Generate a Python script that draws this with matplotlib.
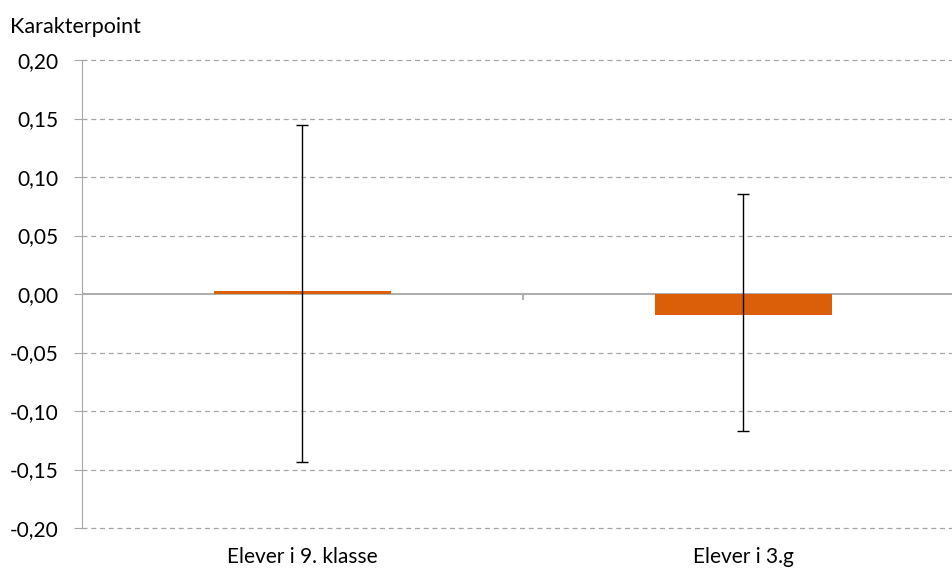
import matplotlib.pyplot as plt
from matplotlib.ticker import FuncFormatter

categories = ['Elever i 9. klasse', 'Elever i 3.g']
values = [0.0028, -0.018]
err_low = [-0.1436, -0.117]
err_high = [0.1444, 0.0855]

plt.rcParams['font.family'] = ['Lato', 'DejaVu Sans']

fig = plt.figure(figsize=(9.53, 5.70), dpi=100)
ax = fig.add_axes([82 / 953, 42 / 570, 882 / 953, 468 / 570])

x = list(range(len(categories)))
ax.bar(x, values, width=0.4, color='#DB5F08', zorder=2)
yerr = [[v - lo for v, lo in zip(values, err_low)], [hi - v for v, hi in zip(values, err_high)]]
ax.errorbar(x, values, yerr=yerr, fmt='none', ecolor='black', elinewidth=1, capsize=4, capthick=1, zorder=3)

ax.set_xlim(-0.5, 1.5)
ax.set_ylim(-0.2, 0.2)
ticks = [-0.2, -0.15, -0.1, -0.05, 0, 0.05, 0.1, 0.15, 0.2]
ax.set_yticks(ticks)
ax.yaxis.set_major_formatter(FuncFormatter(lambda v, p: f'{v:.2f}'.replace('.', ',').replace('-0,00', '0,00')))
for t in ticks:
    if t != 0:
        ax.axhline(t, linestyle=(0, (4, 3)), color='#A6A6A6', linewidth=0.9, zorder=0, clip_on=False)
ax.axhline(0, color='#A6A6A6', linewidth=1.3, zorder=1)

for s in ['top', 'right', 'bottom']:
    ax.spines[s].set_visible(False)
ax.spines['left'].set_color('#A6A6A6')
ax.tick_params(axis='y', length=6, color='#A6A6A6', labelsize=15, pad=11)
ax.set_xticks(x)
ax.set_xticklabels(categories, fontsize=15)
ax.tick_params(axis='x', length=0, pad=14)
# middle separator tick on the zero line
ax.plot([0.5, 0.5], [0, -0.004], color='#A6A6A6', linewidth=1.3, clip_on=False, zorder=1)

fig.text(10 / 953, 1 - 27 / 570, 'Karakterpoint', fontsize=15.5, va='center', ha='left')

fig.savefig('out.png', dpi=100)
